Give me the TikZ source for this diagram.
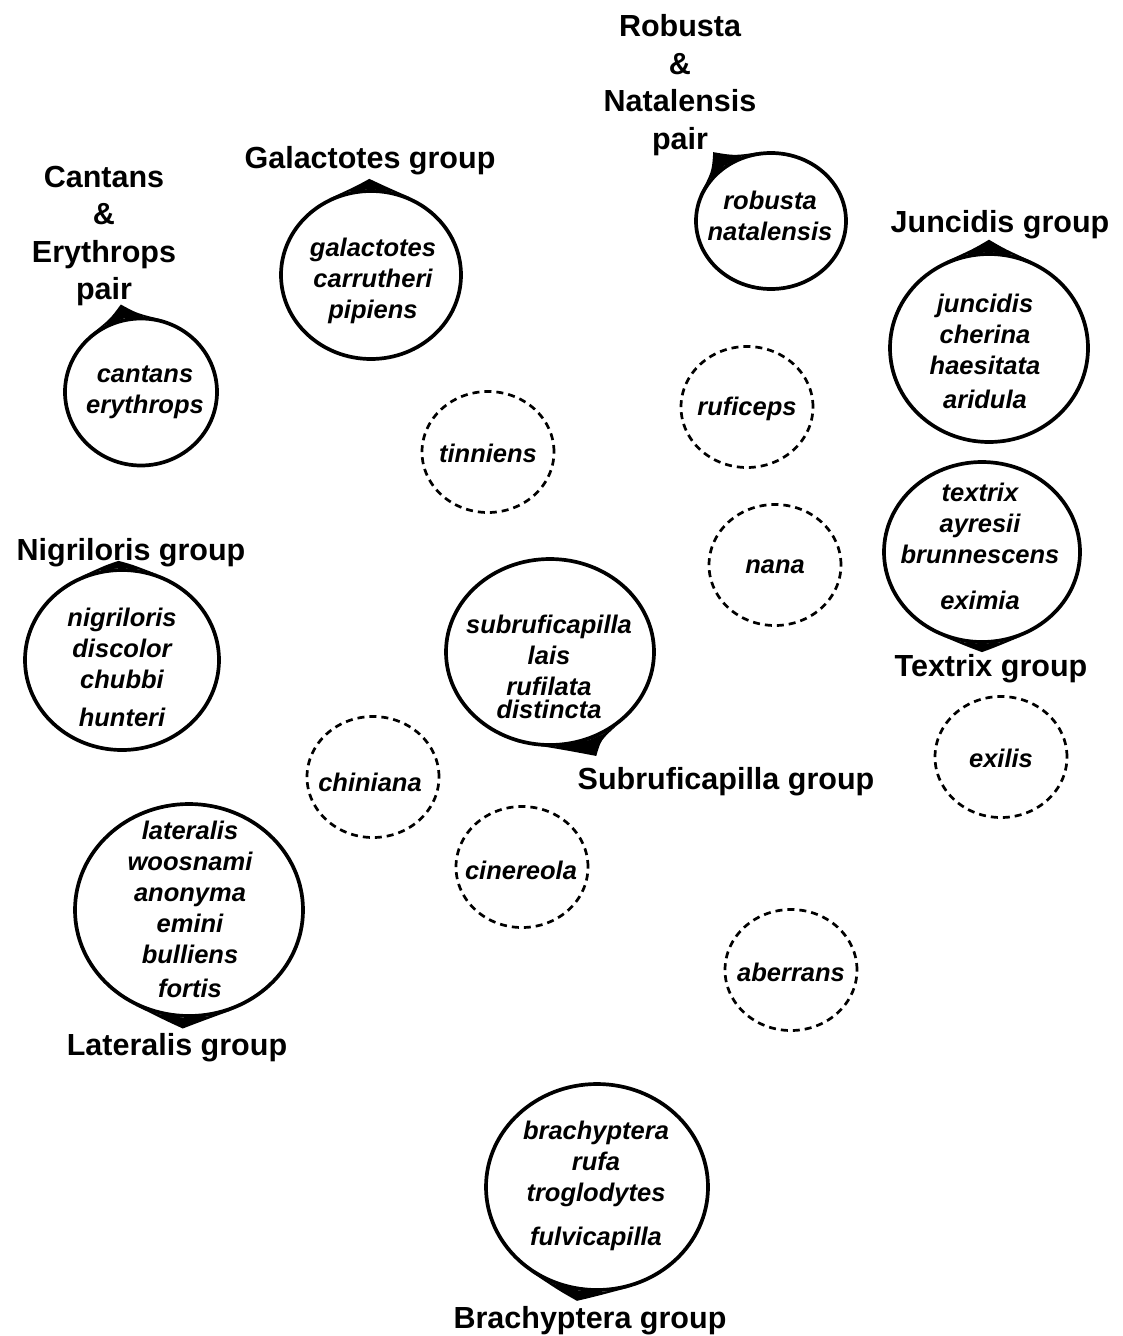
\documentclass[tikz,border=0pt]{standalone}
\usepackage{fontspec}
\setmainfont{Liberation Sans}
\usetikzlibrary{shapes.geometric,calc}
\newcommand\spfont{\fontsize{25.5}{31}\selectfont\bfseries\itshape}
\newcommand\lbfont{\fontsize{30.5}{37.5}\selectfont\bfseries}
% tab: node, angle, width on cw side, width on ccw side, tip factor
\newcommand\tab[5]{%
  \pgfmathtruncatemacro\ta{#2-#3}%
  \pgfmathtruncatemacro\tb{#2-#3/2}%
  \pgfmathtruncatemacro\tc{#2-#3/3}%
  \pgfmathtruncatemacro\td{#2+#4/3}%
  \pgfmathtruncatemacro\te{#2+#4/2}%
  \pgfmathtruncatemacro\tf{#2+#4}%
  \fill ($(#1.center)!#5!(#1.#2)$) .. controls ($(#1.center)!1.045!(#1.\tc)$) .. (#1.\ta)
    -- (#1.\tb) -- (#1.#2) -- (#1.\te) -- (#1.\tf)
    .. controls ($(#1.center)!1.045!(#1.\td)$) .. cycle;}
\begin{document}
\begin{tikzpicture}[x=1pt,y=-1pt,
  grp/.style={ellipse,draw,line width=3.7pt,inner sep=0pt},
  dsh/.style={ellipse,draw,line width=2.7pt,dash pattern=on 7pt off 5pt,inner sep=0pt,
    minimum width=132pt,minimum height=121pt},
  sp/.style={align=center,font=\spfont,inner sep=0pt},
  lb/.style={align=center,font=\lbfont,inner sep=0pt}]
\useasboundingbox (0,0) rectangle (1123,1336);

% group circles
\node[grp,minimum width=152pt,minimum height=147pt] (c1) at (141,392) {};
\node[grp,minimum width=180pt,minimum height=168pt] (c2) at (371,275) {};
\node[grp,minimum width=150pt,minimum height=136pt] (c3) at (771,221) {};
\node[grp,minimum width=198pt,minimum height=188pt] (c4) at (989,348) {};
\node[grp,minimum width=196pt,minimum height=180pt] (c5) at (982,552) {};
\node[grp,minimum width=194pt,minimum height=180pt] (c6) at (122,660) {};
\node[grp,minimum width=208pt,minimum height=186pt] (c7) at (550,652) {};
\node[grp,minimum width=228pt,minimum height=212pt] (c8) at (189,910) {};
\node[grp,minimum width=222pt,minimum height=206pt] (c9) at (597,1187) {};

\tab{c1}{103}{30}{30}{1.19}
\tab{c2}{91}{28}{28}{1.12}
\tab{c3}{130}{32}{30}{1.24}
\tab{c4}{90}{27}{27}{1.13}
\tab{c5}{270}{24}{24}{1.09}
\tab{c6}{92}{24}{24}{1.08}
\tab{c7}{294}{44}{18}{1.18}
\tab{c8}{267}{26}{26}{1.10}
\tab{c9}{260}{28}{28}{1.10}

% species texts
\node[sp] (t1) at (145,392) {cantans\\erythrops};
\node[sp] (t2) at (373,281) {galactotes\\carrutheri\\pipiens};
\node[sp] (t3) at (770,216) {robusta\\natalensis};
\node[sp] (t4) at (985,351) {juncidis\\cherina\\haesitata\\[3pt]aridula};
\node[sp] (t5) at (980,546) {textrix\\ayresii\\brunnescens\\[15pt]eximia};
\node[sp] (t6) at (122,667) {nigriloris\\discolor\\chubbi\\[7pt]hunteri};
\node[sp] (t7) at (549,667) {subruficapilla\\lais\\rufilata\\[-8pt]distincta};
\node[sp] (t8) at (190,909) {lateralis\\woosnami\\anonyma\\emini\\bulliens\\[3pt]fortis};
\node[sp] (t9) at (596,1186) {brachyptera\\rufa\\troglodytes\\[13pt]fulvicapilla};

% dashed circles
\node[dsh] (d1) at (488,452) {};
\node[dsh] (d2) at (747,407) {};
\node[dsh] (d3) at (775,565) {};
\node[dsh] (d4) at (373,777) {};
\node[dsh] (d5) at (522,867) {};
\node[dsh] (d6) at (1001,757) {};
\node[dsh] (d7) at (791,970) {};
\node[sp] (u1) at (488,453) {tinniens};
\node[sp] (u2) at (747,409) {ruficeps};
\node[sp] (u3) at (775,567) {nana};
\node[sp] (u4) at (370,782) {chiniana};
\node[sp] (u5) at (521,870) {cinereola};
\node[sp] (u6) at (1001,758) {exilis};
\node[sp] (u7) at (791,972) {aberrans};

% group labels
\node[lb] (l1) at (104,236) {Cantans\\\&\\Erythrops\\pair};
\node[lb] (l2) at (370,161) {Galactotes group};
\node[lb] (l3) at (680,85) {Robusta\\\&\\Natalensis\\pair};
\node[lb] (l4) at (1000,225) {Juncidis group};
\node[lb] (l5) at (991,669) {Textrix group};
\node[lb] (l6) at (131,553) {Nigriloris group};
\node[lb] (l7) at (726,782) {Subruficapilla group};
\node[lb] (l8) at (177,1048) {Lateralis group};
\node[lb] (l9) at (590,1321) {Brachyptera group};
\end{tikzpicture}
\end{document}
